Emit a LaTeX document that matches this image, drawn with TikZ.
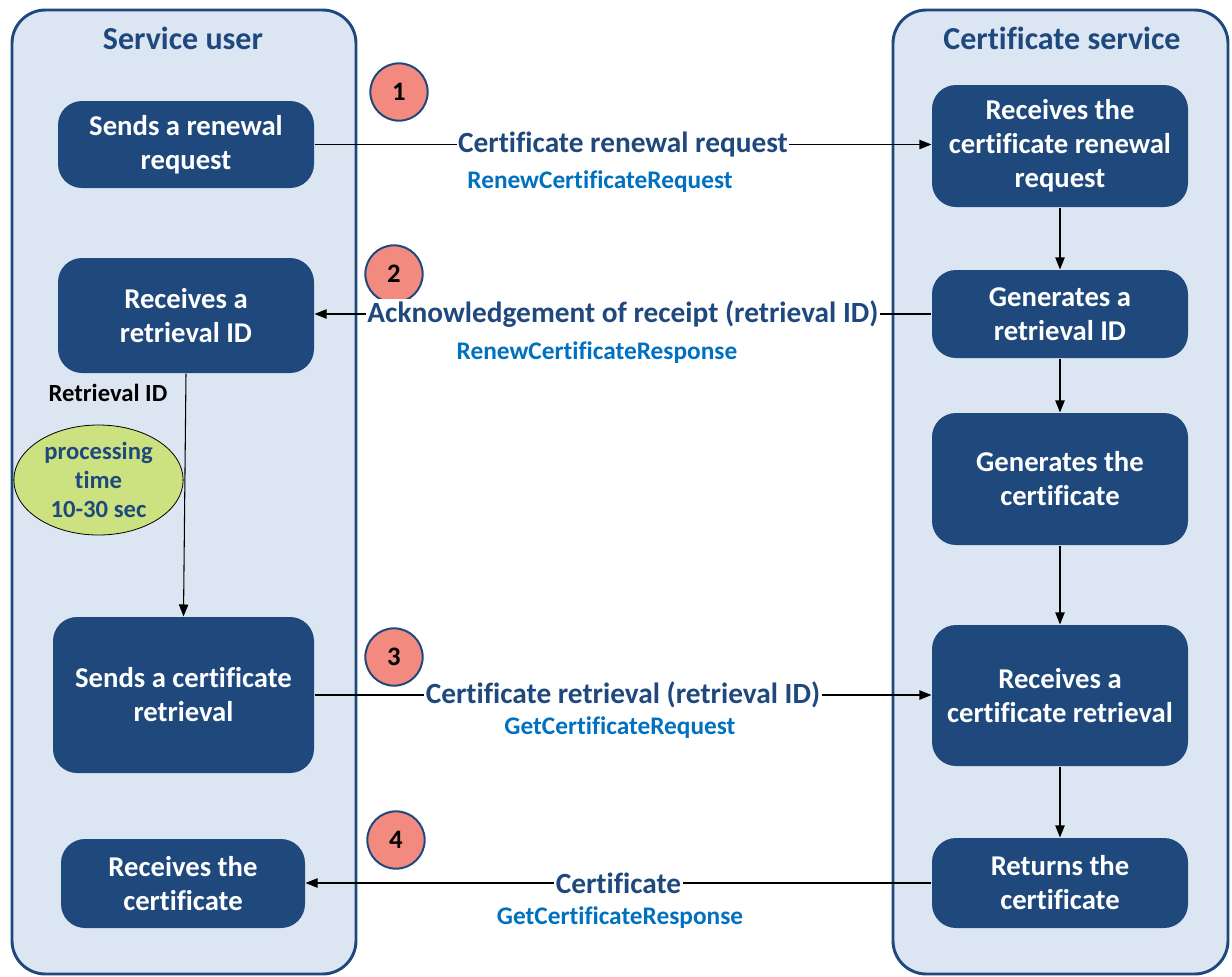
\documentclass[tikz,border=0pt]{standalone}
\usepackage{fontspec}
\setmainfont{Carlito}[Ligatures=NoCommon]
\usetikzlibrary{arrows.meta,shapes.geometric}
\definecolor{laneblue}{HTML}{DCE6F2}
\definecolor{darkblue}{HTML}{1F497D}
\definecolor{apiblue}{HTML}{0070C0}
\definecolor{stepred}{HTML}{F28A80}
\definecolor{timegreen}{HTML}{CCE281}
\tikzset{
  every lane/.style={draw=darkblue, line width=2.2pt, fill=laneblue, rounded corners=25pt},
  every title/.style={text=darkblue, font=\fontsize{24}{28}\selectfont\bfseries},
  every task/.style={fill=darkblue, text=white, rounded corners=18pt, align=center,
    inner sep=0pt, font=\fontsize{21.5}{25.5}\selectfont\bfseries},
  every step/.style={circle, draw=darkblue, line width=1.5pt, fill=stepred,
    minimum size=43pt, inner sep=0pt, font=\fontsize{20}{24}\selectfont\bfseries},
  every msg/.style={midway, fill=white, inner sep=1pt, text=darkblue,
    font=\fontsize{22}{25}\selectfont\bfseries},
  every api/.style={text=apiblue, font=\fontsize{19}{22}\selectfont\bfseries}
}
\begin{document}
\begin{tikzpicture}[x=0.75pt, y=-0.75pt, >={Triangle[length=9pt,width=7pt]}, line width=0.8pt]
\useasboundingbox (0,0) rectangle (1232,976);
% lanes
\node [every lane/.try, minimum width=258pt, minimum height=723pt] (lane-user) at (184,492) {};
\node [every lane/.try, minimum width=251.25pt, minimum height=723pt] (lane-service) at (1060.5,492) {};
\node [every title/.try] (title-user) at (183,38) {Service user};
\node [every title/.try] (title-service) at (1062,38) {Certificate service};

% tasks
\foreach \m/\x/\y/\w/\h/\t in {1/186/144.5/192/65.25/{Sends a renewal\\request},
    2/186/315.5/192/86.25/{Receives a\\retrieval ID},
    3/183.5/695/195.75/117/{Sends a certificate\\retrieval},
    4/183/883.5/183/66.75/{Receives the\\certificate}}
	\node [every task/.try, minimum width=\w pt, minimum height=\h pt] (user-\m) at (\x,\y) {\t};
\foreach \m/\y/\h/\t in {1/146/91.5/{Receives the\\certificate renewal\\request},
    2/314/66/{Generates a\\retrieval ID},
    3/479/99/{Generates the\\certificate},
    4/695.5/105.75/{Receives a\\certificate retrieval},
    5/883/67.5/{Returns the\\certificate}}
	\node [every task/.try, minimum width=192pt, minimum height=\h pt] (service-\m) at (1060,\y) {\t};

% processing time
\node [text=black, font=\fontsize{18.5}{22}\selectfont\bfseries] (retrieval-id) at (108,393) {Retrieval ID};
\node [ellipse, draw=black, line width=0.6pt, fill=timegreen, minimum width=127pt, minimum height=82.5pt,
  inner sep=0pt, align=center, text=darkblue, font=\fontsize{18.5}{22}\selectfont\bfseries]
  (proc-time) at (98.5,480) {processing\\time\\10-30 sec};

% step numbers
\foreach \n/\x/\y in {1/399/92, 2/394/274, 3/394/657, 4/396/840}
	\node [every step/.try] (step-\n) at (\x,\y) {\n};

% task connection
\draw [->] (user-2.south) -- (user-3.north);
\foreach \i/\j in {1/2, 2/3, 3/4, 4/5}
	\draw [->] (service-\i) -- (service-\j);

% messages
\draw [->] (user-1.east) -- (user-1.east -| service-1.west) node [every msg/.try] (msg-1) {Certificate renewal request};
\draw [->] (service-2.west) -- (service-2.west -| user-2.east) node [every msg/.try] (msg-2) {Acknowledgement of receipt (retrieval ID)};
\draw [->] (user-3.east) -- (user-3.east -| service-4.west) node [every msg/.try] (msg-3) {Certificate retrieval (retrieval ID)};
\draw [->] (service-5.west) -- (service-5.west -| user-4.east) node [every msg/.try] (msg-4) {Certificate};

% api names
\foreach \a/\x/\y in {RenewCertificateRequest/600/182, RenewCertificateResponse/597/353,
    GetCertificateRequest/620/728, GetCertificateResponse/620/918}
	\node [every api/.try] (api-\a) at (\x,\y) {\a};

\end{tikzpicture}
\end{document}
